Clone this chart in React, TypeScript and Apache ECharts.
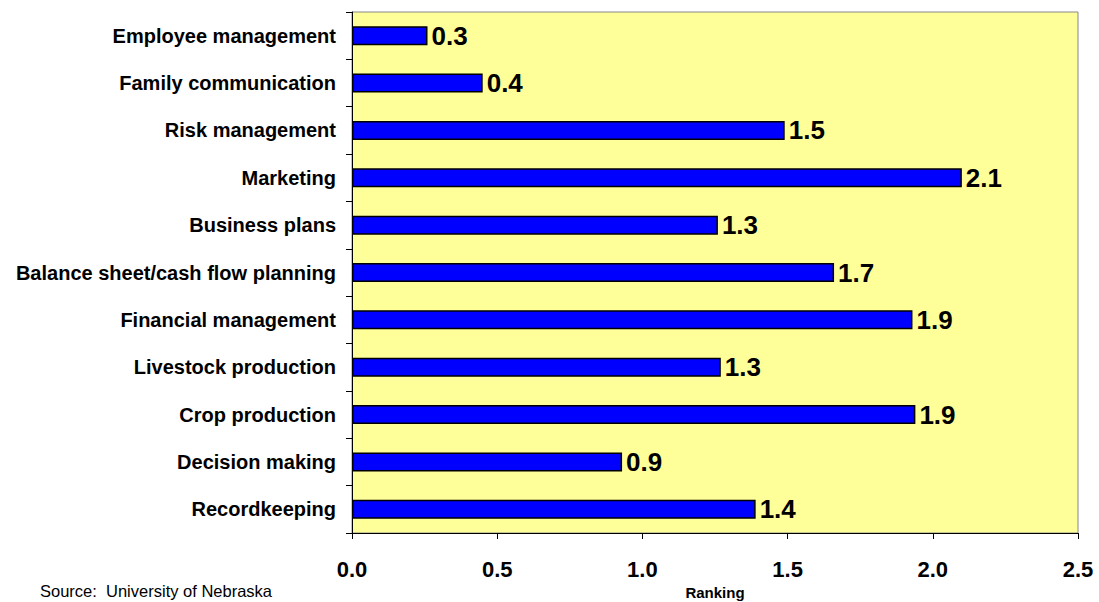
import React, { useEffect, useRef } from "react";
import * as echarts from "echarts";

const categories = [
  "Employee management",
  "Family communication",
  "Risk management",
  "Marketing",
  "Business plans",
  "Balance sheet/cash flow planning",
  "Financial management",
  "Livestock production",
  "Crop production",
  "Decision making",
  "Recordkeeping",
];
const values = [0.26, 0.45, 1.49, 2.1, 1.26, 1.66, 1.93, 1.27, 1.94, 0.93, 1.39];
const valueLabels = ["0.3", "0.4", "1.5", "2.1", "1.3", "1.7", "1.9", "1.3", "1.9", "0.9", "1.4"];
const xTicks = { min: 0, max: 2.5, interval: 0.5 };

export default function App() {
  const ref = useRef<HTMLDivElement>(null);
  useEffect(() => {
    if (!ref.current) return;
    const chart = echarts.init(ref.current, null, { renderer: "svg" });
    chart.setOption({
      animation: false,
      textStyle: { fontFamily: "Liberation Sans, Arial, sans-serif" },
      grid: {
        left: 352,
        right: 21,
        top: 12,
        bottom: 69,
        show: true,
        backgroundColor: "#FFFF99",
        borderColor: "#888888",
        borderWidth: 1,
      },
      xAxis: {
        type: "value",
        min: xTicks.min,
        max: xTicks.max,
        interval: xTicks.interval,
        axisLine: { show: true, lineStyle: { color: "#000", width: 1 } },
        axisTick: { show: true, length: 6, lineStyle: { color: "#000" } },
        splitLine: { show: false },
        axisLabel: {
          color: "#000",
          fontSize: 22,
          fontWeight: "bold",
          margin: 25,
          formatter: (v: number) => v.toFixed(1),
        },
      },
      yAxis: {
        type: "category",
        data: categories,
        inverse: true,
        axisLine: { show: true, lineStyle: { color: "#000", width: 1 } },
        axisTick: { show: true, length: 6, lineStyle: { color: "#000" } },
        axisLabel: {
          color: "#000",
          fontSize: 20,
          fontWeight: "bold",
          margin: 16,
        },
      },
      series: [
        {
          type: "bar",
          data: values,
          barWidth: 19,
          itemStyle: { color: "#0000FF", borderColor: "#000", borderWidth: 1.5 },
          label: {
            show: true,
            position: "right",
            distance: 4,
            color: "#000",
            fontSize: 26,
            fontWeight: "bold",
            formatter: (p: any) => valueLabels[p.dataIndex],
          },
        },
      ],
      graphic: [
        {
          type: "text",
          x: 40,
          y: 591,
          style: {
            text: "Source:  University of Nebraska",
            fill: "#000",
            font: "16.5px Liberation Sans, Arial, sans-serif",
            verticalAlign: "middle",
          },
        },
        {
          type: "text",
          x: 715,
          y: 592,
          style: {
            text: "Ranking",
            fill: "#000",
            font: "bold 15px Liberation Sans, Arial, sans-serif",
            align: "center",
            verticalAlign: "middle",
          },
        },
      ],
    });
    return () => chart.dispose();
  }, []);
  return (
    <div
      ref={ref}
      style={{ position: "absolute", left: 0, top: 0, width: 1099, height: 602 }}
    />
  );
}
